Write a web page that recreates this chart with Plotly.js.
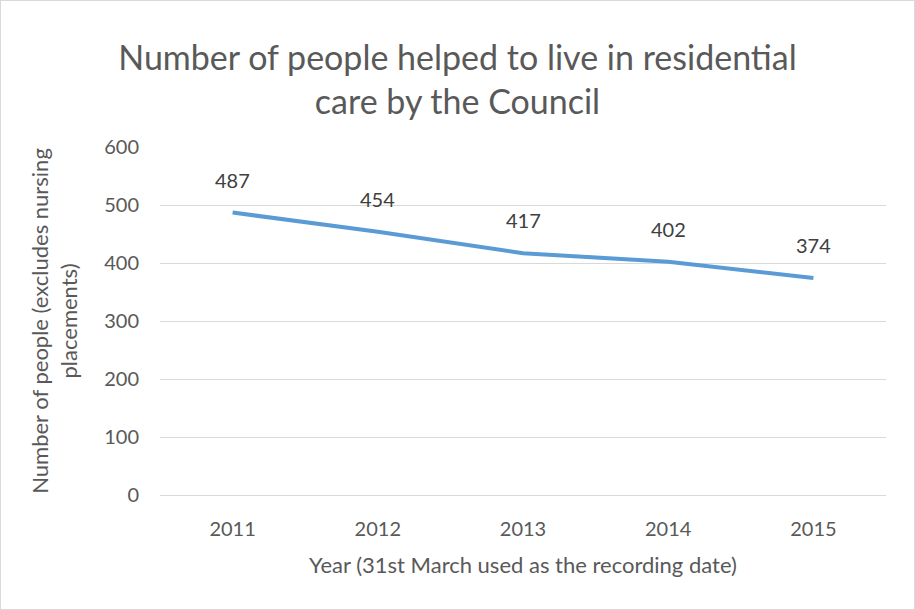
<!DOCTYPE html>
<html>
<head>
<meta charset="utf-8">
<script src="https://cdn.plot.ly/plotly-3.0.1.min.js"></script>
<style>
html,body{margin:0;padding:0;background:#fff;}
#chart{width:913px;height:608px;border:1px solid #d9d9d9;}
</style>
</head>
<body>
<div id="chart"></div>
<script>
const years = ['2011', '2012', '2013', '2014', '2015'];
const people = [487, 454, 417, 402, 374];
const yTicks = [0, 100, 200, 300, 400, 500, 600];

const FONT = 'Lato, "Open Sans", sans-serif';
const GREY = '#595959';

const trace = {
  x: years,
  y: people,
  type: 'scatter',
  mode: 'lines',
  line: {color: '#5B9BD5', width: 4},
  hoverinfo: 'x+y'
};

// category axis: annotation x given as category index
const annotations = years.map((yr, i) => ({
  x: i, y: people[i], xref: 'x', yref: 'y',
  text: String(people[i]), showarrow: false,
  yshift: 33, font: {family: FONT, size: 20, color: '#404040'}
}));

const layout = {
  width: 913, height: 608,
  margin: {l: 159, r: 28, t: 146, b: 114},
  paper_bgcolor: '#fff', plot_bgcolor: '#fff',
  font: {family: FONT, color: GREY},
  showlegend: false,
  title: {
    text: 'Number of people helped to live in residential<br>care by the Council',
    font: {family: FONT, size: 34, color: GREY},
    x: 0.5, xanchor: 'center', y: 0.887, yanchor: 'middle', yref: 'container'
  },
  xaxis: {
    type: 'category',
    categoryorder: 'array', categoryarray: years,
    range: [-0.5, years.length - 0.5], autorange: false,
    showgrid: false, zeroline: false, showline: false,
    ticks: '', ticklabelstandoff: 20,
    tickfont: {family: FONT, size: 20, color: GREY},
    title: {text: 'Year (31st March used as the recording date)', font: {family: FONT, size: 22, color: GREY}, standoff: 18}
  },
  yaxis: {
    range: [0, 600], autorange: false, tickvals: yTicks,
    showgrid: true, gridcolor: '#d9d9d9', gridwidth: 1,
    zeroline: true, zerolinecolor: '#d9d9d9', zerolinewidth: 1,
    showline: false, ticks: '', ticklabelstandoff: 20,
    tickfont: {family: FONT, size: 20, color: GREY},
    title: {text: 'Number of people (excludes nursing<br>placements)', font: {family: FONT, size: 22, color: GREY}, standoff: 20}
  },
  annotations: annotations
};

Plotly.newPlot('chart', [trace], layout, {displayModeBar: false, staticPlot: true});
</script>
</body>
</html>
